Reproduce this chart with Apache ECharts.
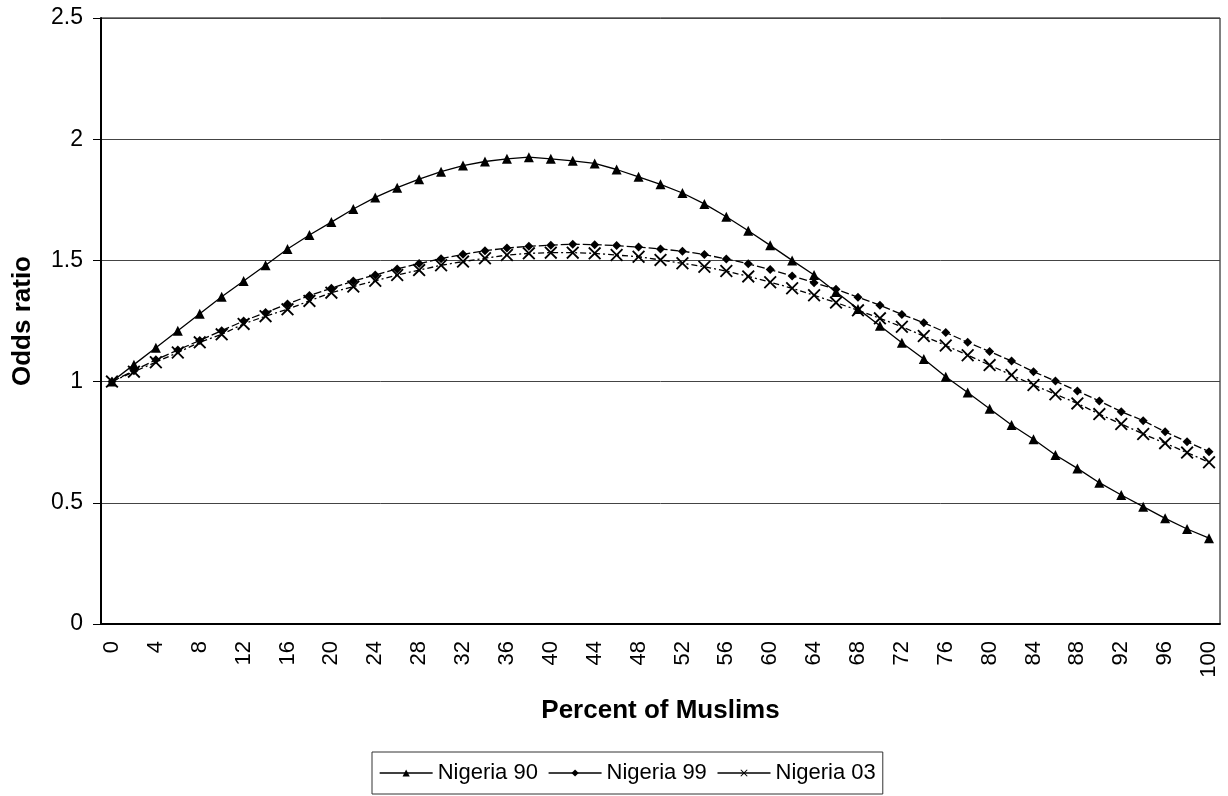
<!DOCTYPE html>
<html><head><meta charset="utf-8">
<script src="https://cdn.jsdelivr.net/npm/echarts@6/dist/echarts.min.js"></script>
<style>html,body{margin:0;padding:0;background:#fff}#c{width:1228px;height:796px}</style>
</head><body><div id="c"></div>
<script>
const categories = [0,2,4,6,8,10,12,14,16,18,20,22,24,26,28,30,32,34,36,38,40,42,44,46,48,50,52,54,56,58,60,62,64,66,68,70,72,74,76,78,80,82,84,86,88,90,92,94,96,98,100].map(String);
const nigeria90 = [1.0,1.07,1.14,1.21,1.28,1.35,1.415,1.48,1.547,1.605,1.658,1.712,1.76,1.80,1.835,1.866,1.891,1.908,1.919,1.926,1.919,1.911,1.90,1.875,1.845,1.814,1.778,1.733,1.68,1.622,1.562,1.50,1.44,1.37,1.30,1.23,1.16,1.093,1.02,0.955,0.888,0.821,0.762,0.697,0.642,0.583,0.532,0.484,0.436,0.392,0.354];
const nigeria99 = [1.0,1.045,1.09,1.13,1.17,1.21,1.25,1.285,1.32,1.355,1.385,1.415,1.44,1.465,1.487,1.507,1.525,1.54,1.551,1.558,1.563,1.567,1.565,1.561,1.555,1.547,1.538,1.524,1.506,1.486,1.462,1.436,1.408,1.381,1.348,1.315,1.277,1.243,1.203,1.162,1.124,1.085,1.041,1.002,0.961,0.92,0.876,0.839,0.793,0.752,0.711];
const nigeria03 = [1.0,1.041,1.08,1.12,1.162,1.195,1.238,1.27,1.298,1.333,1.367,1.392,1.416,1.44,1.46,1.48,1.495,1.509,1.522,1.529,1.532,1.532,1.529,1.522,1.515,1.502,1.488,1.474,1.456,1.434,1.41,1.385,1.356,1.326,1.294,1.261,1.226,1.188,1.149,1.109,1.068,1.027,0.986,0.948,0.91,0.866,0.825,0.784,0.746,0.707,0.667];
const yTicks = [0, 0.5, 1, 1.5, 2, 2.5];

const xSymbol = 'path://M0,1L1,0L5,4L9,0L10,1L6,5L10,9L9,10L5,6L1,10L0,9L4,5Z';
const font = 'Liberation Sans, Arial, sans-serif';
const chart = echarts.init(document.getElementById('c'), null, {renderer: 'canvas'});
chart.setOption({
  animation: false,
  backgroundColor: '#fff',
  textStyle: {fontFamily: font, color: '#000'},
  grid: {left: 101, right: 8, top: 18, bottom: 172, show: true, borderColor: '#000', borderWidth: 1},
  xAxis: {
    type: 'category', data: categories, boundaryGap: true,
    name: 'Percent of Muslims', nameLocation: 'middle', nameGap: 74,
    nameTextStyle: {fontSize: 26, fontWeight: 'bold', fontFamily: font, color: '#000'},
    axisLine: {lineStyle: {color: '#000', width: 2}},
    axisTick: {interval: 0, length: 7, lineStyle: {color: '#000'}},
    axisLabel: {interval: 1, rotate: 90, fontSize: 22, color: '#000', fontFamily: font, margin: 17},
    splitLine: {show: false}
  },
  yAxis: {
    type: 'value', min: 0, max: 2.5, interval: 0.5,
    name: 'Odds ratio', nameLocation: 'middle', nameGap: 65, nameRotate: 90,
    nameTextStyle: {fontSize: 26, fontWeight: 'bold', fontFamily: font, color: '#000'},
    axisLine: {show: true, lineStyle: {color: '#000', width: 2}},
    axisTick: {show: true, length: 8, lineStyle: {color: '#000'}},
    axisLabel: {fontSize: 23, color: '#000', fontFamily: font, margin: 18,
      formatter: v => yTicks.includes(v) ? String(v) : ''},
    splitLine: {lineStyle: {color: '#444', width: 1}}
  },
  legend: {
    bottom: 2, left: 372,
    borderColor: '#333', borderWidth: 1, padding: [10, 7],
    itemWidth: 53, itemHeight: 9, itemGap: 10,
    lineStyle: {type: 'solid', width: 1.3, color: '#000'},
    textStyle: {fontSize: 22, color: '#000', fontFamily: font},
    data: ['Nigeria 90', 'Nigeria 99', 'Nigeria 03']
  },
  series: [
    {name: 'Nigeria 90', type: 'line', data: nigeria90, symbol: 'triangle', symbolSize: 10,
     itemStyle: {color: '#000'}, lineStyle: {color: '#000', width: 1.3, type: 'solid'}},
    {name: 'Nigeria 99', type: 'line', data: nigeria99, symbol: 'diamond', symbolSize: 9,
     itemStyle: {color: '#000'}, lineStyle: {color: '#000', width: 1.3, type: [8, 3]}},
    {name: 'Nigeria 03', type: 'line', data: nigeria03, symbol: xSymbol, symbolSize: 13,
     itemStyle: {color: '#000'}, lineStyle: {color: '#000', width: 1.3, type: [6, 3, 2, 3]}}
  ]
});
</script></body></html>
